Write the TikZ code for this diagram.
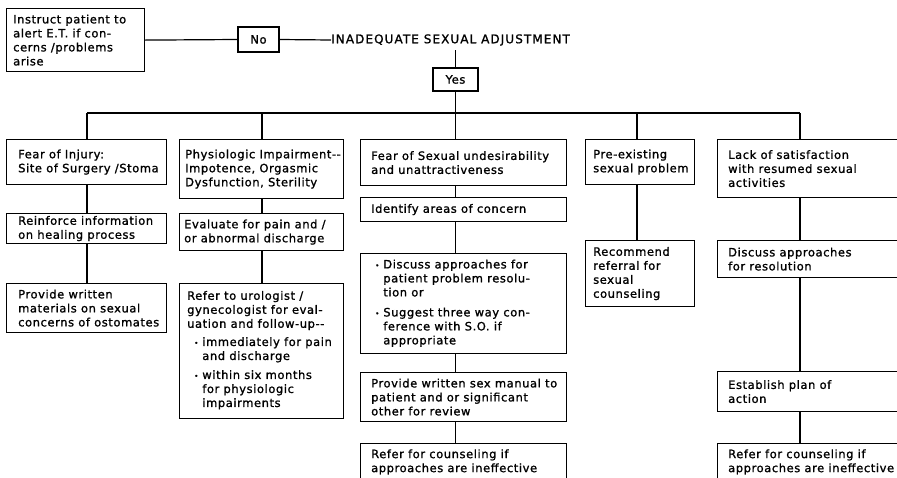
\documentclass[tikz,border=0pt]{standalone}
\usepackage{fontspec}
\setmainfont{DejaVu Sans}[LetterSpace=5, FakeBold=1.2]
\newfontfamily\headfont{DejaVu Sans}[LetterSpace=9, FakeBold=1.2]
\usepackage{array}

% box with its text set flush left, a given padding in from the left edge
% #1 padding, #2 name, #3 x1, #4 y1, #5 x2, #6 y2, #7 text
\newcommand\flowbox[7][11]{%
  \pgfmathsetmacro\fbw{#5-#3}%
  \pgfmathsetmacro\fbh{#6-#4}%
  \node[fbox, minimum width=\fbw pt, minimum height=\fbh pt] (#2) at (#3,#4) {};
  \node[ftext] (#2-t) at ([xshift=#1pt]#2.west) {#7};
}
\newcommand\bul{\raisebox{0.5pt}{\scriptsize\textbullet}}
\newcommand\dd{-\kern0.5pt-}

\begin{document}
\begin{tikzpicture}[x=1pt, y=-1pt,
  every node/.style={font=\fontsize{11.5}{14}\selectfont},
  fbox/.style={draw, line width=1.2pt, anchor=north west, inner sep=0pt},
  ftext/.style={anchor=west, align=left, inner sep=0pt},
  answer/.style={draw, line width=1.2pt, inner sep=0pt, minimum width=41pt, minimum height=25pt},
  link/.style={line width=1.2pt}]
\clip (0,0) rectangle (897,477);
\fill[white] (0,0) rectangle (897,477);

% decision line
\flowbox[7]{instr}{6}{8}{144}{71}{Instruct patient to\\alert E.T. if con-\\cerns /problems\\arise}
\node[answer] (no) at (258.5,39.5) {No};
\node[anchor=west, inner sep=0pt, font=\headfont\fontsize{12}{14}\selectfont] (inad) at (331,40) {INADEQUATE SEXUAL ADJUSTMENT};
\node[answer, minimum width=45pt, minimum height=23pt] (yes) at (455.5,79.5) {Yes};

% first row of concerns
\flowbox[12]{f1}{6}{139}{166}{184}{Fear of Injury:\\Site of Surgery /Stoma}
\flowbox[6]{f2}{179}{139}{343}{198}{Physiologic Impairment\dd\\Impotence, Orgasmic\\Dysfunction, Sterility}
\flowbox[11]{f3}{360}{139}{566}{185}{Fear of Sexual undesirability\\and unattractiveness}
\flowbox[8]{f4}{585}{139}{694}{184}{Pre-existing\\sexual problem}
\flowbox[11]{f5}{717}{139}{920}{197}{Lack of satisfaction\\with resumed sexual\\activities}

% column 1
\flowbox[12]{r1}{6}{213}{166}{243}{Reinforce information\\on healing process}
\flowbox[12]{p1}{6}{283}{166}{332}{Provide written\\materials on sexual\\concerns of ostomates}

% column 2
\flowbox[5]{e2}{179}{213}{343}{250}{Evaluate for pain and /\\or abnormal discharge}
\flowbox[8]{u2}{179}{283}{343}{418}{Refer to urologist /\\gynecologist for eval-\\uation and follow-up\dd\\[5pt]%
  \hspace*{7pt}\begin{tabular}{@{}l@{\hspace{4pt}}l@{}}\bul&immediately for pain\\&and discharge\\[5pt]\bul&within six months\\&for physiologic\\&impairments\end{tabular}}

% column 3
\flowbox[11]{i3}{360}{197}{566}{221}{Identify areas of concern}
\flowbox[15]{d3}{360}{253}{566}{353}{\begin{tabular}{@{}l@{\hspace{4pt}}l@{}}\bul&Discuss approaches for\\&patient problem resolu-\\&tion or\\[6pt]\bul&Suggest three way con-\\&ference with S.O. if\\&appropriate\end{tabular}}
\flowbox[11]{m3}{360}{372}{566}{421}{Provide written sex manual to\\patient and or significant\\other for review}
\flowbox[11]{c3}{360}{443}{566}{500}{\\Refer for counseling if\\approaches are ineffective\\\\}

% column 4
\flowbox[8]{r4}{585}{240}{694}{306}{Recommend\\referral for\\sexual\\counseling}

% column 5
\flowbox[11]{d5}{717}{240}{920}{277}{Discuss approaches\\for resolution}
\flowbox[11]{e5}{717}{371}{920}{411}{Establish plan of\\action}
\flowbox[11]{c5}{717}{443}{920}{500}{\\Refer for counseling if\\approaches are ineffective\\\\}

% branch points on the distribution bar
\coordinate (k1) at (87,113);
\coordinate (k2) at (262,113);
\coordinate (k3) at (455.5,113);
\coordinate (k4) at (637,113);
\coordinate (k5) at (800,113);

% connectors
\draw[link] (instr.east) -- (no.west);
\draw[link] (no.east) -- (inad.west);
\draw[link] (yes.north) -- (yes.north |- 0,50);
\draw[link] (yes.south) -- (k3);
\draw[link] (k1) -- (k5);
\draw[link] (k1) -- (k1 |- f1.north);
\draw[link] (k2) -- (k2 |- f2.north);
\draw[link] (k3) -- (k3 |- f3.north);
\draw[link] (k4) -- (k4 |- f4.north);
\draw[link] (k5) -- (k5 |- f5.north);

\draw[link] (k1 |- f1.south) -- (k1 |- r1.north);
\draw[link] (k1 |- r1.south) -- (k1 |- p1.north);
\draw[link] (k2 |- f2.south) -- (k2 |- e2.north);
\draw[link] (k2 |- e2.south) -- (k2 |- u2.north);
\draw[link] (k3 |- f3.south) -- (k3 |- i3.north);
\draw[link] (k3 |- i3.south) -- (k3 |- d3.north);
\draw[link] (k3 |- d3.south) -- (k3 |- m3.north);
\draw[link] (k3 |- m3.south) -- (k3 |- c3.north);
\draw[link] (k4 |- f4.south) -- (k4 |- r4.north);
\draw[link] (k5 |- f5.south) -- (k5 |- d5.north);
\draw[link] (k5 |- d5.south) -- (k5 |- e5.north);
\draw[link] (k5 |- e5.south) -- (k5 |- c5.north);
\end{tikzpicture}
\end{document}
